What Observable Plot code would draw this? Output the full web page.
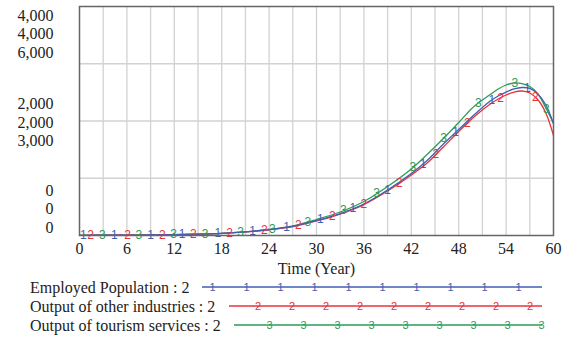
<!DOCTYPE html>
<html><head><meta charset="utf-8">
<script src="https://cdn.jsdelivr.net/npm/d3@7"></script>
<script src="https://cdn.jsdelivr.net/npm/@observablehq/plot@0.6"></script>
<style>
body{margin:0;background:#fff;}
#chart{width:571px;height:338px;overflow:hidden;font-family:"Liberation Serif","Times New Roman",serif;}
#chart svg{display:block;}
</style></head><body><div id="chart"></div>
<script>
// ---- data ----
const years = [0,3,6,9,12,15,18,21,24,27,30,33,36,39,42,44,46,48,50,52,53,54,55,56,57,58,59,60];
const employedPopulation    = [3,5,7,10,16,24,38,65,105,161,262,384,550,795,1083,1310,1589,1851,2113,2349,2437,2506,2559,2585,2568,2472,2288,1956];
const otherIndustriesOutput = [3,5,7,10,15,23,36,62,100,155,255,375,540,777,1057,1266,1537,1817,2079,2297,2384,2454,2506,2524,2489,2375,2148,1747];
const tourismServicesOutput = [5,8,11,16,24,37,58,97,157,249,419,616,891,1284,1742,2122,2528,2961,3393,3694,3838,3943,3996,3982,3904,3720,3354,2934];
const seriesNames = ["Employed Population : 2","Output of other industries : 2","Output of tourism services : 2"];
const seriesKeys = ["1","2","3"];
const axisMax = [4000,4000,6000];
const xTicks = [0,6,12,18,24,30,36,42,48,54,60];
const xGrid = [3,6,9,12,15,18,21,24,27,30,33,36,39,42,45,48,51,54,57];
const yGrid = [0.25,0.5,0.75];
const yLevels = [1,0.5,0];
// times (years) at which the series number markers sit on each curve
const markerTimesEmployed = [0.5,4.4,9.0,13.0,17.5,21.9,26.2,30.5,34.6,39.0,43.5,47.6,52.2,56.7];
const markerTimesOther    = [1.4,6.1,10.5,14.4,19.0,23.4,27.7,32.0,36.0,40.5,45.1,49.1,53.3,57.7];
const markerTimesTourism  = [2.9,7.5,11.9,15.9,20.4,24.4,28.9,33.4,37.6,42.2,46.1,50.5,55.1,59.1];

// ---- styling ----
const colors = ["#3f5fb3","#e8323c","#2e9a5a"];
const seriesValues = [employedPopulation, otherIndustriesOutput, tourismServicesOutput];
const markerTimes = [markerTimesEmployed, markerTimesOther, markerTimesTourism];
const fmt = d3.format(",");

const rows = seriesValues.flatMap((vals,i)=> years.map((t,j)=>({s:i, t, f: vals[j]/axisMax[i]})));
function interp(vals, t){
  let j = d3.bisectRight(years, t) - 1; j = Math.max(0, Math.min(j, years.length-2));
  const a = (t - years[j])/(years[j+1]-years[j]);
  return vals[j] + a*(vals[j+1]-vals[j]);
}
const markers = seriesValues.flatMap((vals,i)=> markerTimes[i].map(t=>({s:i, t, f: interp(vals,t)/axisMax[i]})));

const yLabels = yLevels.flatMap(l => axisMax.map((m,i)=>({l, i, text: fmt(m*l)})));
const rowGap = 18.5;
function labelDy(d){
  if (d.l === 1) return 9 + d.i*rowGap;
  if (d.l === 0.5) return 1.5 + (d.i-1)*rowGap;
  return -8 + (d.i-2)*rowGap;
}

const order = [2,1,0];
const serif = '"Liberation Serif","Times New Roman",serif';
const plot = Plot.plot({
  width: 571, height: 278,
  marginLeft: 79, marginRight: 18, marginTop: 6, marginBottom: 43,
  style: {fontFamily: serif, fontSize: "16px", color: "#222", background: "#fff"},
  x: {domain: [0,60], label: null},
  y: {domain: [0,1], axis: null},
  marks: [
    Plot.ruleX(xGrid, {stroke: "#d2d2d2", strokeWidth: 1.3}),
    Plot.ruleY(yGrid, {stroke: "#d2d2d2", strokeWidth: 1.3}),
    ...order.map(i => Plot.line(rows.filter(d=>d.s===i), {x:"t", y:"f", stroke: colors[i], strokeWidth: 1.3, curve: "catmull-rom"})),
    ...order.map(i => Plot.text(markers.filter(d=>d.s===i), {x:"t", y:"f", text: ()=>seriesKeys[i], fill: colors[i], fontFamily: '"Liberation Sans",Arial,sans-serif', fontSize: 12, lineAnchor: "middle"})),
    Plot.frame({stroke: "#666", strokeWidth: 1.5}),
    Plot.axisX({ticks: xTicks, tickSize: 0, tickPadding: 7, tickFormat: d=>String(d), label: null, fontSize: 16, fontFamily: serif}),
    Plot.text(["Time (Year)"], {frameAnchor: "bottom", dy: 33, lineAnchor: "middle", fontSize: 16, fontFamily: serif, fill: "#222"}),
    ...yLabels.map(d => Plot.text([d], {frameAnchor: "left", y: "l", text: "text", dx: -26, dy: labelDy(d), textAnchor: "end", lineAnchor: "middle", fontSize: 16, fontFamily: serif, fill: "#222"}))
  ]
});
document.getElementById("chart").appendChild(plot);

// ---- legend ----
const legendStartX = [202, 229, 234], legendEndX = 542;
const legendFirstMarker = [212.6, 258, 269.5], legendMarkerStep = 34, legendMarkerCount = [10, 9, 9];
const legend = d3.select("#chart").append("svg").attr("width", 571).attr("height", 60);
seriesNames.forEach((name, i) => {
  const y = 9 + i*19;
  const g = legend.append("g");
  g.append("text").attr("x", 30).attr("y", y).attr("dy", "0.35em")
    .attr("font-family", serif).attr("font-size", 16).attr("fill", "#222").text(name);
  g.append("line").attr("x1", legendStartX[i]).attr("x2", legendEndX).attr("y1", y).attr("y2", y)
    .attr("stroke", colors[i]).attr("stroke-width", 1.3);
  d3.range(legendMarkerCount[i]).forEach(k => {
    g.append("text").attr("x", legendFirstMarker[i] + k*legendMarkerStep).attr("y", y).attr("dy", "0.35em")
      .attr("text-anchor", "middle").attr("font-family", '"Liberation Sans",Arial,sans-serif').attr("font-size", 11)
      .attr("fill", colors[i]).text(seriesKeys[i]);
  });
});
</script></body></html>
